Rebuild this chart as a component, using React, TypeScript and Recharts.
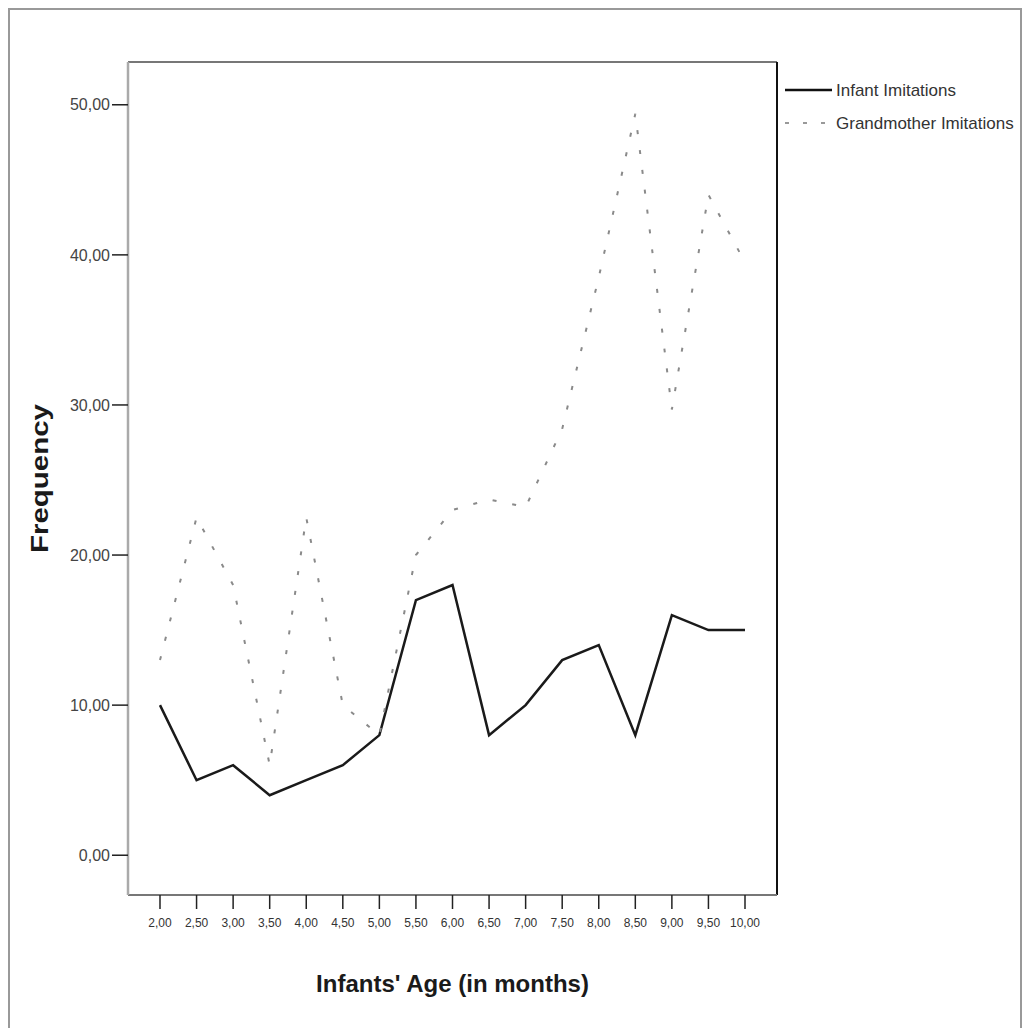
import React from 'react';
import { LineChart, Line, XAxis, YAxis, Legend, Label, ReferenceLine } from 'recharts';

// Infants' age in months (x categories)
const ages = [2, 2.5, 3, 3.5, 4, 4.5, 5, 5.5, 6, 6.5, 7, 7.5, 8, 8.5, 9, 9.5, 10];
// Frequency of imitations per session
const infantImitations = [10, 5, 6, 4, 5, 6, 8, 17, 18, 8, 10, 13, 14, 8, 16, 15, 15];
const grandmotherImitations = [13, 22.5, 18, 6, 22.5, 10, 8, 20, 23, 23.7, 23.2, 28.4, 38.5, 49.4, 29.7, 44, 39.5];
const yTicks = [0, 10, 20, 30, 40, 50];

const seriesNames = { infant: 'Infant Imitations', grandmother: 'Grandmother Imitations' };

const X_DOMAIN: [number, number] = [1.5624, 10.4376];
const Y_DOMAIN: [number, number] = [-2.65, 52.85];

const data = ages.map((age, i) => ({
  age,
  infant: infantImitations[i],
  grandmother: grandmotherImitations[i],
}));

const fmt = (v: number) => v.toFixed(2).replace('.', ',');
const FONT = '"Liberation Sans", Arial, sans-serif';

const LegendBox = () => (
  <svg width={247} height={60} style={{ display: 'block' }}>
    <line x1={0} y1={17} x2={47} y2={17} stroke="#111" strokeWidth={2.5} />
    <text x={51} y={17} dominantBaseline="central" fontFamily={FONT} fontSize={17} fill="#333">
      {seriesNames.infant}
    </text>
    <line x1={0} y1={50} x2={47} y2={50} stroke="#999" strokeWidth={2} strokeDasharray="4 14" />
    <text x={51} y={50} dominantBaseline="central" fontFamily={FONT} fontSize={17} fill="#333">
      {seriesNames.grandmother}
    </text>
  </svg>
);

const YTitle = ({ viewBox }: any) => {
  const cy = viewBox.y + viewBox.height / 2;
  return (
    <text
      x={40}
      y={cy}
      transform={`rotate(-90 40 ${cy})`}
      textAnchor="middle"
      dominantBaseline="central"
      fontFamily={FONT}
      fontSize={23}
      fontWeight="bold"
      fill="#1a1a1a"
      textLength={149}
      lengthAdjust="spacingAndGlyphs"
    >
      Frequency
    </text>
  );
};

const XTitle = ({ viewBox }: any) => {
  const cx = viewBox.x + viewBox.width / 2;
  return (
    <text
      x={cx}
      y={983}
      textAnchor="middle"
      dominantBaseline="central"
      fontFamily={FONT}
      fontSize={24}
      fontWeight="bold"
      fill="#1a1a1a"
    >
      Infants' Age (in months)
    </text>
  );
};

export default function App() {
  return (
    <div style={{ position: 'absolute', left: 0, top: 0, width: 1032, height: 1028, background: '#fff', overflow: 'hidden' }}>
      {/* scanned page border */}
      <svg width={1032} height={1028} style={{ position: 'absolute', left: 0, top: 0 }}>
        <rect x={9} y={9} width={1012} height={1040} fill="none" stroke="#999" strokeWidth={2} />
      </svg>
      <div style={{ position: 'absolute', left: 0, top: 0 }}>
        <LineChart
          width={1032}
          height={1028}
          data={data}
          margin={{ top: 62, right: 255, bottom: 93, left: 0 }}
        >
          <XAxis
            xAxisId="bottom"
            dataKey="age"
            type="number"
            domain={X_DOMAIN}
            allowDataOverflow
            ticks={ages}
            interval={0}
            tickFormatter={fmt}
            height={40}
            axisLine={{ stroke: '#777', strokeWidth: 2 }}
            tickLine={{ stroke: '#222', strokeWidth: 1.5 }}
            tickSize={14}
            tickMargin={9}
            tick={{ fontFamily: FONT, fontSize: 12, fill: '#333' }}
          >
            <Label content={<XTitle />} />
          </XAxis>
          <YAxis
            yAxisId="left"
            type="number"
            domain={Y_DOMAIN}
            allowDataOverflow
            ticks={yTicks}
            tickFormatter={fmt}
            width={128}
            axisLine={{ stroke: '#aaa', strokeWidth: 2.5 }}
            tickLine={{ stroke: '#222', strokeWidth: 1.5 }}
            tickSize={16}
            tickMargin={2}
            tick={{ fontFamily: FONT, fontSize: 16, fill: '#444' }}
          >
            <Label content={<YTitle />} />
          </YAxis>
          {/* top and right edges of the plot frame */}
          <ReferenceLine xAxisId="bottom" yAxisId="left" y={Y_DOMAIN[1]} stroke="#777" strokeWidth={2} ifOverflow="visible" />
          <ReferenceLine xAxisId="bottom" yAxisId="left" x={X_DOMAIN[1]} stroke="#111" strokeWidth={2} ifOverflow="visible" />
          <Legend
            layout="vertical"
            verticalAlign="middle"
            align="center"
            content={<LegendBox />}
            wrapperStyle={{ position: 'absolute', left: 785, top: 73, width: 247, height: 60 }}
          />
          <Line
            xAxisId="bottom"
            yAxisId="left"
            type="linear"
            dataKey="infant"
            name={seriesNames.infant}
            stroke="#1a1a1a"
            strokeWidth={2.5}
            dot={false}
            isAnimationActive={false}
          />
          <Line
            xAxisId="bottom"
            yAxisId="left"
            type="linear"
            dataKey="grandmother"
            name={seriesNames.grandmother}
            stroke="#8a8a8a"
            strokeWidth={2}
            strokeDasharray="4 16"
            dot={false}
            isAnimationActive={false}
          />
        </LineChart>
      </div>
    </div>
  );
}
